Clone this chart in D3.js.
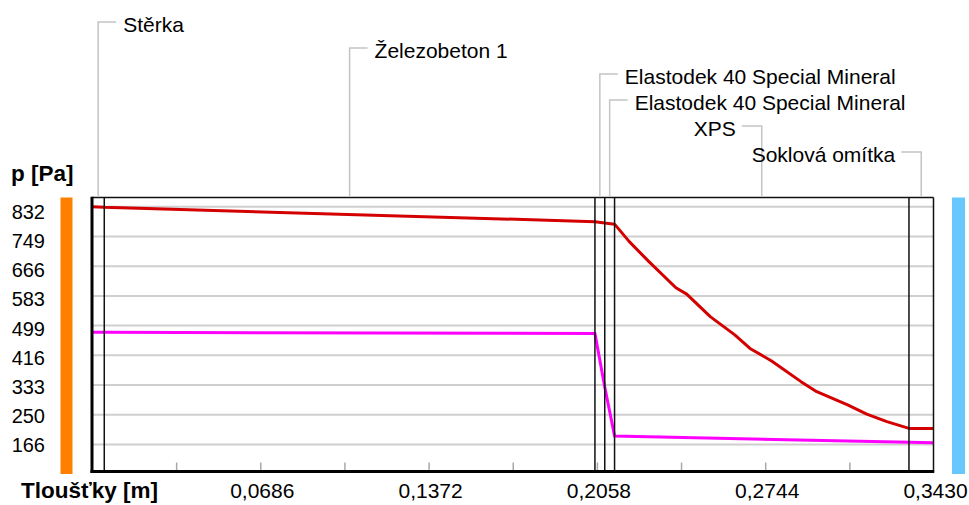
<!DOCTYPE html>
<html>
<head>
<meta charset="utf-8">
<script src="https://cdn.jsdelivr.net/npm/d3@7"></script>
<style>
  body { margin: 0; background: #fff; }
  text { font-family: "Liberation Sans", Arial, sans-serif; fill: #000; }
</style>
</head>
<body>
<div id="chart"></div>
<script>
// layers of the wall (name, thickness in m)
const layerNames = ['Stěrka', 'Železobeton 1', 'Elastodek 40 Special Mineral', 'Elastodek 40 Special Mineral', 'XPS', 'Soklová omítka']
const layerThick = [0.005, 0.2, 0.004, 0.004, 0.12, 0.01]

// red curve (saturated pressure) and magenta curve (partial pressure)
const redX = [0, 0.005, 0.205, 0.209, 0.213, 0.219, 0.227, 0.238, 0.2424, 0.252, 0.262, 0.2682, 0.277, 0.289, 0.2954, 0.308, 0.3158, 0.324, 0.333, 0.343]
const redP = [831, 829, 789, 785, 782, 733, 677, 604, 586, 523, 472, 434, 399, 341, 313, 276, 250, 229, 210, 210]
const magX = [0, 0.005, 0.205, 0.209, 0.213, 0.333, 0.343]
const magP = [479, 479, 476, 326, 189, 171, 170]

const yTicks = [166.44, 249.66, 332.88, 416.1, 499.32, 582.54, 665.76, 748.98, 832.2]
const xMinor = [0.0343, 0.0686, 0.1029, 0.1372, 0.1715, 0.2058, 0.2401, 0.2744, 0.3087]
const xLabels = [0.0686, 0.1372, 0.2058, 0.2744, 0.343]

const W = 969, H = 505
const L = 92, R = 933.5, T = 197.5, B = 471.5

const svg = d3.select('#chart').append('svg')
  .attr('width', W)
  .attr('height', H)

const x = d3.scaleLinear().domain([0, 0.343]).range([L, R])
const y = d3.scaleLinear().domain([89.4, 856.6]).range([B, T])
// tick labels sit on their own even spacing
const yLab = d3.scaleLinear().domain([166.44, 832.2]).range([444.7, 212])

// boundaries between layers
let acc = 0
const bounds = [0]
layerThick.forEach(t => { acc += t; bounds.push(+acc.toFixed(4)) })

// side bars
svg.append('rect').attr('x', 60.5).attr('y', T).attr('width', 12).attr('height', 474 - T).attr('fill', '#ff8000')
svg.append('rect').attr('x', 952).attr('y', T).attr('width', 13).attr('height', 474 - T).attr('fill', '#66c8ff')

// horizontal grid
const grid = svg.append('g')
  .attr('transform', `translate(${L},0)`)
  .call(d3.axisLeft(y).tickValues(yTicks).tickSize(-(R - L)).tickFormat(''))
grid.select('.domain').remove()
grid.selectAll('line').attr('stroke', '#cfcfcf').attr('stroke-width', 2)

// small ticks on the bottom axis
const xt = svg.append('g')
  .attr('transform', `translate(0,${B})`)
  .call(d3.axisBottom(x).tickValues(xMinor).tickSize(-9).tickFormat(''))
xt.select('.domain').remove()
xt.selectAll('line').attr('stroke', '#a8a8a8').attr('stroke-width', 1.5)

// curves
const line = d3.line().x(d => x(d[0])).y(d => y(d[1]))
svg.append('path')
  .datum(redX.map((v, i) => [v, redP[i]]))
  .attr('d', line)
  .attr('fill', 'none')
  .attr('stroke', '#d40000')
  .attr('stroke-width', 3)
  .attr('stroke-linejoin', 'round')
svg.append('path')
  .datum(magX.map((v, i) => [v, magP[i]]))
  .attr('d', line)
  .attr('fill', 'none')
  .attr('stroke', '#ff00ff')
  .attr('stroke-width', 3)

// layer boundaries
svg.selectAll('.bound')
  .data(bounds.slice(1, -1))
  .enter()
  .append('line')
  .attr('x1', d => x(d)).attr('x2', d => x(d))
  .attr('y1', T).attr('y2', B)
  .attr('stroke', '#111')
  .attr('stroke-width', 1.5)

// frame
svg.append('line').attr('x1', L).attr('x2', R).attr('y1', T).attr('y2', T).attr('stroke', '#111').attr('stroke-width', 1.5)
svg.append('line').attr('x1', R).attr('x2', R).attr('y1', T).attr('y2', B).attr('stroke', '#111').attr('stroke-width', 1.5)
svg.append('line').attr('x1', L).attr('x2', L).attr('y1', T - 0.75).attr('y2', B + 1.5).attr('stroke', '#000').attr('stroke-width', 3)
svg.append('line').attr('x1', L - 1.5).attr('x2', R + 0.75).attr('y1', B).attr('y2', B).attr('stroke', '#000').attr('stroke-width', 3)

// layer labels with leader lines
const leaders = svg.append('g')
layerNames.forEach((name, i) => {
  const cx = (x(bounds[i]) + x(bounds[i + 1])) / 2
  const ly = 22 + 26 * i
  const left = (cx - L) / (R - L) > 0.7
  const sx = left ? cx - 20 : cx + 18
  leaders.append('path')
    .attr('d', `M${cx},${T - 0.75}V${ly}H${sx}`)
    .attr('fill', 'none')
    .attr('stroke', '#c4c4c4')
    .attr('stroke-width', 1.5)
  leaders.append('text')
    .attr('x', left ? cx - 26 : cx + 25)
    .attr('y', ly + 10)
    .attr('text-anchor', left ? 'end' : 'start')
    .style('font-size', '21px')
    .text(name)
})

// y tick labels
svg.selectAll('.ylab')
  .data(yTicks)
  .enter()
  .append('text')
  .attr('x', 45)
  .attr('y', d => yLab(d))
  .attr('dy', '0.36em')
  .attr('text-anchor', 'end')
  .style('font-size', '20px')
  .text(d => Math.round(d))

// x tick labels
svg.selectAll('.xlab')
  .data(xLabels)
  .enter()
  .append('text')
  .attr('x', d => x(d) + 2)
  .attr('y', 498)
  .attr('text-anchor', 'middle')
  .style('font-size', '21px')
  .text(d => d.toFixed(4).replace('.', ','))

// axis titles
svg.append('text').attr('x', 11).attr('y', 181)
  .style('font-size', '22.5px').style('font-weight', 'bold')
  .text('p [Pa]')
svg.append('text').attr('x', 21).attr('y', 498)
  .style('font-size', '22.5px').style('font-weight', 'bold')
  .text('Tloušťky [m]')
</script>
</body>
</html>
